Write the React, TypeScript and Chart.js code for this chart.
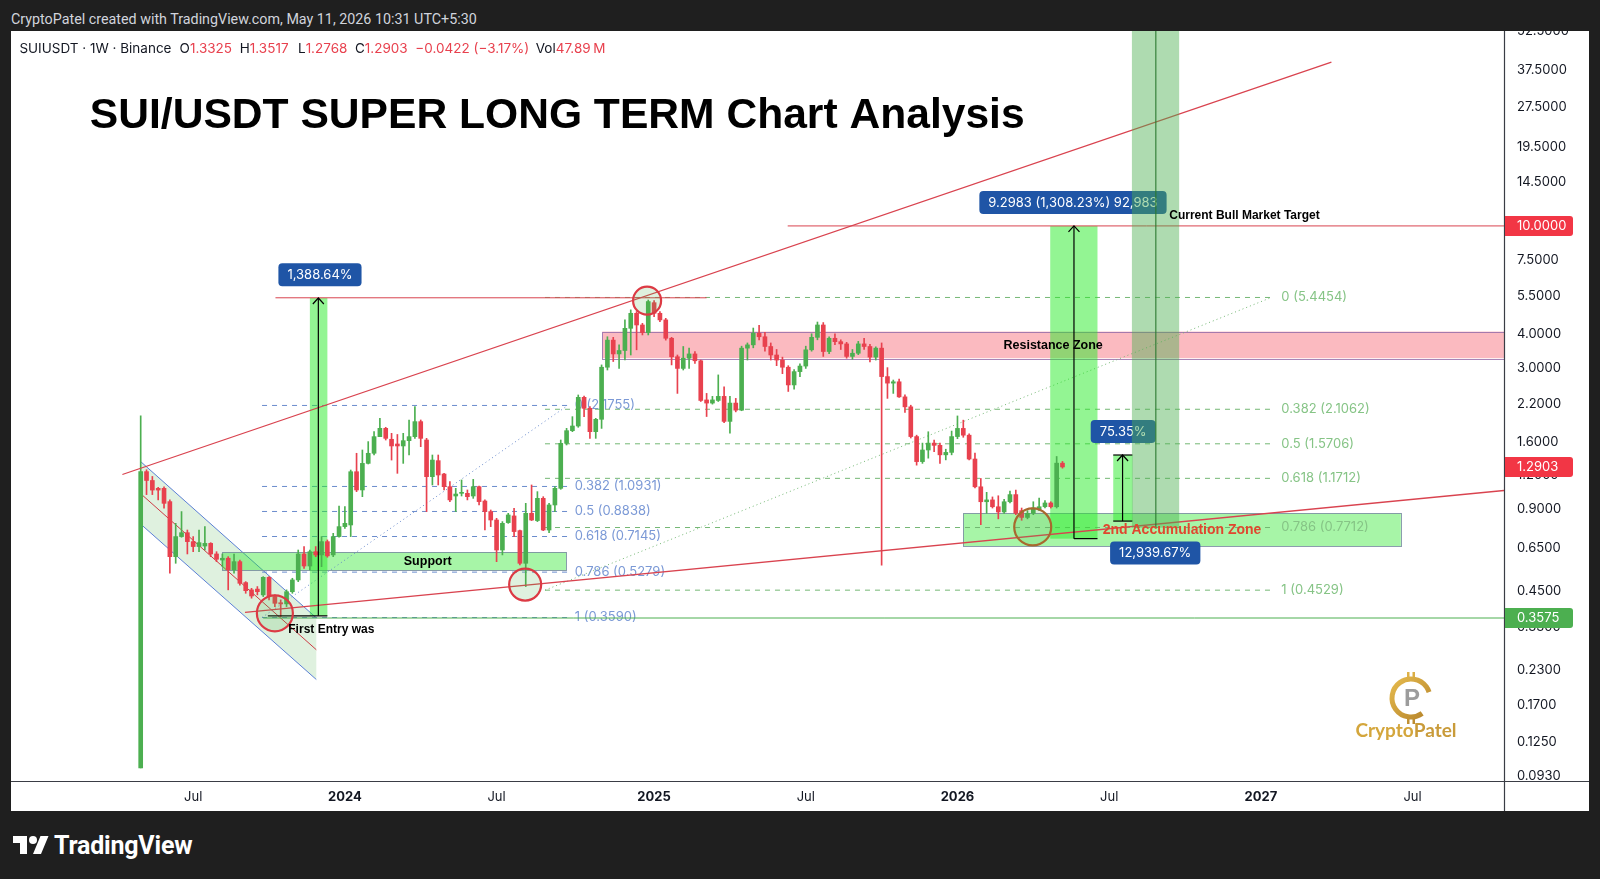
import React, { useEffect, useRef } from 'react';
import { Chart, registerables } from 'chart.js';

Chart.register(...registerables);

// Weekly SUIUSDT candles; week index 0 = week starting 1 May 2023
const OPEN = [0.100, 1.24, 1.15, 1.076, 1.076, 0.961, 0.602, 0.714, 0.738, 0.684, 0.656, 0.659, 0.674, 0.616, 0.585, 0.594, 0.538, 0.577, 0.483, 0.454, 0.457, 0.435, 0.505, 0.429, 0.407, 0.403, 0.447, 0.494, 0.616, 0.556, 0.628, 0.611, 0.684, 0.611, 0.714, 0.777, 0.788, 1.239, 1.061, 1.330, 1.449, 1.669, 1.791, 1.632, 1.568, 1.542, 1.613, 1.669, 1.896, 1.622, 1.188, 1.361, 1.215, 1.091, 1.008, 1.031, 1.031, 1.008, 1.091, 0.966, 0.883, 0.822, 0.637, 0.804, 0.851, 0.751, 0.569, 0.870, 0.818, 0.988, 0.755, 0.934, 1.076, 1.577, 1.756, 1.827, 2.331, 2.123, 1.741, 1.934, 3.01, 3.79, 3.37, 3.47, 4.19, 4.76, 4.31, 4.04, 5.21, 4.76, 4.50, 3.85, 3.29, 2.98, 3.25, 3.37, 3.18, 2.28, 2.22, 2.27, 2.35, 1.90, 2.22, 2.09, 3.54, 3.64, 4.02, 3.90, 3.59, 3.34, 3.20, 3.01, 2.59, 2.90, 3.04, 3.49, 3.88, 4.31, 3.44, 3.85, 3.74, 3.67, 3.30, 3.39, 3.67, 3.59, 3.28, 3.54, 2.78, 2.63, 2.66, 2.34, 2.15, 1.67, 1.35, 1.49, 1.58, 1.55, 1.43, 1.46, 1.67, 1.79, 1.69, 1.38, 1.09, 0.96, 0.975, 0.92, 0.88, 0.96, 1.02, 0.89, 0.84, 0.87, 0.90, 0.92, 0.95, 0.92, 1.3325];
const HIGH = [1.99, 1.26, 1.19, 1.085, 1.09, 0.975, 0.799, 0.883, 0.755, 0.714, 0.755, 0.777, 0.678, 0.628, 0.616, 0.602, 0.616, 0.585, 0.487, 0.460, 0.467, 0.508, 0.508, 0.435, 0.417, 0.454, 0.501, 0.637, 0.656, 0.637, 0.656, 0.714, 0.694, 0.734, 0.926, 0.921, 1.257, 1.449, 1.490, 1.600, 1.741, 1.950, 1.807, 1.717, 1.700, 1.717, 1.923, 2.153, 1.923, 1.645, 1.428, 1.428, 1.222, 1.139, 1.076, 1.155, 1.061, 1.161, 1.097, 0.975, 0.895, 0.834, 0.811, 0.870, 0.908, 0.755, 0.947, 1.107, 1.046, 1.002, 0.947, 1.091, 1.622, 1.791, 1.978, 2.378, 2.358, 2.153, 1.950, 3.07, 3.90, 3.88, 3.64, 4.50, 4.90, 4.83, 4.37, 5.33, 5.30, 4.83, 4.56, 3.88, 3.34, 3.59, 3.54, 3.44, 3.20, 2.41, 2.35, 2.82, 2.55, 2.35, 2.31, 3.60, 3.70, 4.20, 4.30, 4.05, 3.70, 3.50, 3.28, 3.05, 2.95, 3.10, 3.60, 4.00, 4.42, 4.40, 3.90, 4.00, 3.80, 3.72, 3.50, 3.75, 3.85, 3.66, 3.58, 3.70, 3.00, 2.70, 2.72, 2.38, 2.18, 1.69, 1.58, 1.74, 1.62, 1.58, 1.50, 1.75, 1.99, 1.92, 1.71, 1.45, 1.17, 1.04, 1.00, 1.01, 0.98, 1.05, 1.06, 0.91, 0.89, 0.96, 0.99, 0.97, 0.96, 1.41, 1.3517];
const LOW = [0.100, 1.02, 1.02, 0.975, 0.908, 0.523, 0.569, 0.710, 0.616, 0.628, 0.628, 0.637, 0.602, 0.577, 0.553, 0.454, 0.523, 0.473, 0.441, 0.423, 0.435, 0.429, 0.417, 0.394, 0.362, 0.394, 0.441, 0.487, 0.545, 0.538, 0.602, 0.553, 0.599, 0.602, 0.710, 0.766, 0.714, 1.046, 1.002, 1.323, 1.428, 1.669, 1.622, 1.368, 1.222, 1.330, 1.428, 1.645, 1.533, 0.883, 1.107, 1.107, 1.061, 0.961, 0.883, 1.008, 0.975, 0.988, 0.934, 0.755, 0.777, 0.577, 0.611, 0.799, 0.714, 0.561, 0.467, 0.818, 0.811, 0.751, 0.738, 0.883, 1.067, 1.555, 1.741, 1.807, 1.978, 1.645, 1.645, 1.79, 2.94, 3.16, 2.98, 3.20, 3.34, 3.49, 3.96, 3.96, 4.63, 4.43, 3.79, 3.07, 2.41, 2.94, 2.98, 3.11, 2.25, 1.98, 2.20, 2.25, 1.88, 1.72, 2.06, 2.08, 3.20, 3.55, 3.80, 3.45, 3.20, 3.05, 2.85, 2.45, 2.50, 2.78, 2.98, 3.45, 3.80, 3.30, 3.38, 3.65, 3.50, 3.25, 3.22, 3.35, 3.50, 3.15, 3.20, 0.56, 2.31, 2.41, 2.33, 2.05, 1.65, 1.31, 1.33, 1.39, 1.47, 1.33, 1.37, 1.43, 1.64, 1.66, 1.37, 1.08, 0.79, 0.87, 0.91, 0.83, 0.87, 0.95, 0.86, 0.82, 0.83, 0.86, 0.89, 0.91, 0.91, 0.91, 1.2768];
const CLOSE = [1.24, 1.15, 1.06, 1.06, 0.947, 0.602, 0.714, 0.738, 0.684, 0.656, 0.678, 0.674, 0.616, 0.589, 0.594, 0.538, 0.577, 0.480, 0.451, 0.431, 0.447, 0.505, 0.429, 0.405, 0.403, 0.447, 0.494, 0.616, 0.556, 0.628, 0.611, 0.684, 0.606, 0.714, 0.777, 0.799, 1.239, 1.061, 1.330, 1.449, 1.669, 1.791, 1.645, 1.542, 1.542, 1.613, 1.669, 1.896, 1.645, 1.188, 1.368, 1.205, 1.091, 0.975, 1.025, 1.037, 1.002, 1.091, 0.961, 0.883, 0.822, 0.637, 0.799, 0.858, 0.745, 0.569, 0.870, 0.822, 0.988, 0.755, 0.934, 1.076, 1.577, 1.756, 1.827, 2.331, 2.123, 1.741, 1.934, 3.01, 3.79, 3.37, 3.47, 4.19, 4.76, 4.31, 4.04, 5.26, 4.76, 4.50, 3.85, 3.29, 2.98, 3.25, 3.37, 3.18, 2.27, 2.22, 2.28, 2.35, 1.90, 2.22, 2.09, 3.54, 3.64, 4.02, 3.90, 3.59, 3.34, 3.20, 3.01, 2.59, 2.90, 3.04, 3.49, 3.88, 4.31, 3.44, 3.85, 3.74, 3.67, 3.30, 3.39, 3.67, 3.59, 3.28, 3.54, 2.78, 2.63, 2.66, 2.34, 2.15, 1.67, 1.35, 1.49, 1.58, 1.55, 1.43, 1.46, 1.67, 1.79, 1.69, 1.38, 1.09, 0.96, 0.975, 0.92, 0.88, 0.96, 1.02, 0.87, 0.84, 0.87, 0.91, 0.92, 0.95, 0.92, 1.3325, 1.2903];

const TIME_TICKS = [9, 35, 61, 88, 114, 140, 166, 192, 218];
const TIME_LABELS = ['Jul', '2024', 'Jul', '2025', 'Jul', '2026', 'Jul', '2027', 'Jul'];
const PRICE_TICKS = [52.5, 37.5, 27.5, 19.5, 14.5, 10, 7.5, 5.5, 4, 3, 2.2, 1.6, 1.2, 0.9, 0.65, 0.45, 0.33, 0.23, 0.17, 0.125, 0.093];
const X_RANGE = [-22.23, 233.68];
const Y_RANGE = [0.0895, 52.39];

const FIB_RATIOS = ['0', '0.382', '0.5', '0.618', '0.786', '1'];
const FIB1_PRICES = [2.1755, 1.0931, 0.8838, 0.7145, 0.5279, 0.359];
const FIB1_WEEKS = [20.8, 73.2];
const FIB2_PRICES = [5.4454, 2.1062, 1.5706, 1.1712, 0.7712, 0.4529];
const FIB2_WEEKS = [69.3, 193.8];

const CHANNEL_WEEKS = [0, 30.1];
const CHANNEL_UPPER = [1.35, 0.358];
const CHANNEL_MID = [1.028, 0.273];
const CHANNEL_LOWER = [0.794, 0.212];
const UPPER_TREND = [[-3.14, 1.21], [204.1, 40.2]];
const LOWER_TREND = [[17.88, 0.375], [233.68, 1.056]];

const SUPPORT_ZONE = [[14.0, 72.95], [0.536, 0.626]];
const RESIST_ZONE = [[79.1, 240], [3.25, 4.075]];
const ACCUM_ZONE = [[141.0, 216.0], [0.659, 0.87]];

const ATH_LINE = [[23.1, 97.0], 5.43];
const TARGET_LINE = [[110.9, 240], 10.0];
const ENTRY_LINE = [[21.0, 240], 0.3575];

const MOVE1 = { weeks: [29.0, 32.0], arrow: 30.45, from: 0.3642, to: 5.42, base: [21.8, 32.0] };
const MOVE2 = { weeks: [155.9, 164.0], arrow: 159.97, from: 0.7017, to: 10.0 };
const MOVE4 = { weeks: [166.7, 170.0], arrow: 168.3, from: 0.8145, to: 1.428 };
const COLUMN3 = { weeks: [169.9, 178.0], line: 174.0, from: 0.77 };

const CIRCLE_ANCHORS = [[23.0, 0.372], [65.9, 0.475], [86.8, 5.30], [152.9, 0.775]];

const BOX1 = ['1,388.64%', 30.73, 6.6];
const BOX2 = ['9.2983 (1,308.23%) 92,983', 159.8, 12.2];
const BOX4 = ['75.35%', 168.4, 1.744];
const BOX3 = ['12,939.67%', 173.9, 0.621];

const UP = '#4caf50';
const DOWN = '#e8414e';
const INK = '#131722';
const BOXBLUE = '#1f55a6';

type Ctx = CanvasRenderingContext2D;

function seg(ctx: Ctx, x1: number, y1: number, x2: number, y2: number, color: string, width = 1, dash: number[] = []) {
  ctx.save();
  ctx.strokeStyle = color;
  ctx.lineWidth = width;
  ctx.setLineDash(dash);
  ctx.beginPath();
  ctx.moveTo(x1, y1);
  ctx.lineTo(x2, y2);
  ctx.stroke();
  ctx.restore();
}

function box(ctx: Ctx, x1: number, y1: number, x2: number, y2: number, fill: string, stroke?: string) {
  ctx.save();
  ctx.fillStyle = fill;
  ctx.fillRect(x1, y1, x2 - x1, y2 - y1);
  if (stroke) {
    ctx.strokeStyle = stroke;
    ctx.lineWidth = 1;
    ctx.strokeRect(Math.round(x1) + 0.5, Math.round(y1) + 0.5, Math.round(x2 - x1), Math.round(y2 - y1));
  }
  ctx.restore();
}

function text(ctx: Ctx, s: string, x: number, y: number, font: string, color: string, align: CanvasTextAlign = 'left') {
  ctx.save();
  ctx.font = font;
  ctx.fillStyle = color;
  ctx.textAlign = align;
  ctx.textBaseline = 'middle';
  ctx.fillText(s, x, y);
  ctx.restore();
}

function labelBox(ctx: Ctx, s: string, cx: number, cy: number) {
  ctx.save();
  ctx.font = '13px Inter, sans-serif';
  const w = ctx.measureText(s).width + 18;
  const h = 23;
  ctx.fillStyle = BOXBLUE;
  ctx.beginPath();
  ctx.roundRect(cx - w / 2, cy - h / 2, w, h, 4);
  ctx.fill();
  ctx.fillStyle = '#ffffff';
  ctx.textAlign = 'center';
  ctx.textBaseline = 'middle';
  ctx.fillText(s, cx, cy + 0.5);
  ctx.restore();
}

function arrowUp(ctx: Ctx, x: number, yBottom: number, yTop: number) {
  seg(ctx, x, yBottom, x, yTop, '#000000', 1.2);
  ctx.save();
  ctx.strokeStyle = '#000000';
  ctx.lineWidth = 1.2;
  ctx.beginPath();
  ctx.moveTo(x - 5.5, yTop + 6);
  ctx.lineTo(x, yTop);
  ctx.lineTo(x + 5.5, yTop + 6);
  ctx.stroke();
  ctx.restore();
}

const overlay = {
  id: 'overlay',
  beforeDatasetsDraw(chart: any) {
    const { ctx, chartArea: a } = chart;
    const xs = chart.scales.x;
    const ys = chart.scales.y;
    const X = (v: number) => xs.getPixelForValue(v);
    const Y = (v: number) => ys.getPixelForValue(v);
    ctx.save();
    ctx.beginPath();
    ctx.rect(a.left, a.top, a.right - a.left, a.bottom - a.top);
    ctx.clip();

    const [c0, c1] = CHANNEL_WEEKS;
    ctx.fillStyle = 'rgba(76,175,80,0.18)';
    ctx.beginPath();
    ctx.moveTo(X(c0), Y(CHANNEL_UPPER[0]));
    ctx.lineTo(X(c1), Y(CHANNEL_UPPER[1]));
    ctx.lineTo(X(c1), Y(CHANNEL_LOWER[1]));
    ctx.lineTo(X(c0), Y(CHANNEL_LOWER[0]));
    ctx.closePath();
    ctx.fill();
    seg(ctx, X(c0), Y(CHANNEL_UPPER[0]), X(c1), Y(CHANNEL_UPPER[1]), '#5b7fd6', 1);
    seg(ctx, X(c0), Y(CHANNEL_LOWER[0]), X(c1), Y(CHANNEL_LOWER[1]), '#5b7fd6', 1);
    seg(ctx, X(c0), Y(CHANNEL_MID[0]), X(c1), Y(CHANNEL_MID[1]), '#cc3b45', 1);

    box(ctx, X(SUPPORT_ZONE[0][0]), Y(SUPPORT_ZONE[1][1]), X(SUPPORT_ZONE[0][1]), Y(SUPPORT_ZONE[1][0]), 'rgba(45,232,45,0.42)', 'rgba(120,140,160,0.85)');
    box(ctx, X(RESIST_ZONE[0][0]), Y(RESIST_ZONE[1][1]), X(RESIST_ZONE[0][1]), Y(RESIST_ZONE[1][0]), 'rgba(242,54,69,0.34)', 'rgba(150,110,170,0.85)');
    box(ctx, X(ACCUM_ZONE[0][0]), Y(ACCUM_ZONE[1][1]), X(ACCUM_ZONE[0][1]), Y(ACCUM_ZONE[1][0]), 'rgba(45,232,45,0.42)', 'rgba(120,140,160,0.85)');

    FIB1_PRICES.forEach((p, k) => {
      seg(ctx, X(FIB1_WEEKS[0]), Y(p), X(FIB1_WEEKS[1]), Y(p), 'rgba(91,127,200,0.9)', 1, [5, 5]);
      text(ctx, `${FIB_RATIOS[k]} (${p.toFixed(4)})`, X(FIB1_WEEKS[1]) + 7, Y(p), '13px Inter, sans-serif', '#7b99d6');
    });
    seg(ctx, X(FIB1_WEEKS[0]), Y(FIB1_PRICES[5]), X(FIB1_WEEKS[1]), Y(FIB1_PRICES[0]), 'rgba(91,127,200,0.9)', 1, [1, 3]);

    FIB2_PRICES.forEach((p, k) => {
      seg(ctx, X(FIB2_WEEKS[0]), Y(p), X(FIB2_WEEKS[1]), Y(p), 'rgba(110,180,110,0.95)', 1, [5, 5]);
      text(ctx, `${FIB_RATIOS[k]} (${p.toFixed(4)})`, X(FIB2_WEEKS[1]) + 10, Y(p), '13px Inter, sans-serif', '#86c486');
    });
    seg(ctx, X(FIB2_WEEKS[0]), Y(FIB2_PRICES[5]), X(FIB2_WEEKS[1]), Y(FIB2_PRICES[0]), 'rgba(110,180,110,0.95)', 1, [1, 3]);

    for (const m of [MOVE1, MOVE2, MOVE4]) {
      box(ctx, X(m.weeks[0]), Y(m.to), X(m.weeks[1]), Y(m.from), 'rgba(40,235,40,0.5)');
    }

    seg(ctx, X(ATH_LINE[0][0]), Y(ATH_LINE[1] as number), X(ATH_LINE[0][1]), Y(ATH_LINE[1] as number), '#d9434f', 1);
    seg(ctx, X(TARGET_LINE[0][0]), Y(TARGET_LINE[1] as number), X(TARGET_LINE[0][1]), Y(TARGET_LINE[1] as number), '#d9434f', 1);
    seg(ctx, X(ENTRY_LINE[0][0]), Y(ENTRY_LINE[1] as number), X(ENTRY_LINE[0][1]), Y(ENTRY_LINE[1] as number), '#4caf50', 1);

    ctx.restore();
  },
  afterDatasetsDraw(chart: any) {
    const { ctx, chartArea: a } = chart;
    const xs = chart.scales.x;
    const ys = chart.scales.y;
    const X = (v: number) => xs.getPixelForValue(v);
    const Y = (v: number) => ys.getPixelForValue(v);
    ctx.save();
    ctx.beginPath();
    ctx.rect(a.left, a.top, a.right - a.left, a.bottom - a.top);
    ctx.clip();

    seg(ctx, X(UPPER_TREND[0][0]), Y(UPPER_TREND[0][1]), X(UPPER_TREND[1][0]), Y(UPPER_TREND[1][1]), '#d9434f', 1.3);
    seg(ctx, X(LOWER_TREND[0][0]), Y(LOWER_TREND[0][1]), X(LOWER_TREND[1][0]), Y(LOWER_TREND[1][1]), '#d9434f', 1.3);

    arrowUp(ctx, X(MOVE1.arrow), Y(MOVE1.from), Y(MOVE1.to));
    seg(ctx, X(MOVE1.base[0]), Y(MOVE1.from), X(MOVE1.base[1]), Y(MOVE1.from), '#000000', 1.2);
    arrowUp(ctx, X(MOVE2.arrow), Y(MOVE2.from), Y(MOVE2.to));
    seg(ctx, X(MOVE2.arrow), Y(MOVE2.from), X(MOVE2.weeks[1]), Y(MOVE2.from), '#000000', 1.2);
    arrowUp(ctx, X(MOVE4.arrow), Y(MOVE4.from), Y(MOVE4.to));
    seg(ctx, X(MOVE4.weeks[0]), Y(MOVE4.to), X(MOVE4.weeks[1]), Y(MOVE4.to), '#000000', 1.2);
    seg(ctx, X(MOVE4.weeks[0]), Y(MOVE4.from), X(MOVE4.weeks[1]), Y(MOVE4.from), '#000000', 1.2);

    const radii = [18, 16, 14, 18.5];
    CIRCLE_ANCHORS.forEach(([w, p], k) => {
      ctx.save();
      ctx.beginPath();
      ctx.arc(X(w), Y(p), radii[k], 0, Math.PI * 2);
      ctx.fillStyle = 'rgba(76,175,80,0.18)';
      ctx.fill();
      ctx.lineWidth = 2.2;
      ctx.strokeStyle = k === 3 ? '#a8692e' : '#dc3a44';
      ctx.stroke();
      ctx.restore();
    });

    labelBox(ctx, BOX1[0] as string, X(BOX1[1] as number), Y(BOX1[2] as number));
    labelBox(ctx, BOX2[0] as string, X(BOX2[1] as number), Y(BOX2[2] as number));
    labelBox(ctx, BOX4[0] as string, X(BOX4[1] as number), Y(BOX4[2] as number));

    box(ctx, X(COLUMN3.weeks[0]), a.top, X(COLUMN3.weeks[1]), Y(COLUMN3.from), 'rgba(76,175,80,0.45)');
    seg(ctx, X(COLUMN3.line), a.top, X(COLUMN3.line), Y(COLUMN3.from), 'rgba(40,120,45,0.9)', 1.2);
    labelBox(ctx, BOX3[0] as string, X(BOX3[1] as number), Y(BOX3[2] as number));

    const bold = (s: number) => `bold ${s}px "Liberation Sans", Arial, sans-serif`;
    text(ctx, 'Support', X(49.2), Y(0.58), bold(12.5), '#000000', 'center');
    text(ctx, 'Resistance Zone', X(156.4), Y(3.605), bold(12.5), '#000000', 'center');
    text(ctx, '2nd Accumulation Zone', X(164.9), Y(0.755), bold(14), '#e0472f');
    text(ctx, 'First Entry was', X(25.3), Y(0.323), bold(12), '#000000');
    text(ctx, 'Current Bull Market Target', X(176.3), Y(10.91), bold(12), '#000000');

    ctx.restore();

    ctx.save();
    ctx.font = 'bold 42.6px "Liberation Sans", Arial, sans-serif';
    ctx.fillStyle = '#000000';
    ctx.textBaseline = 'alphabetic';
    ctx.fillText('SUI/USDT SUPER LONG TERM Chart Analysis', 78.8, 96.5);
    ctx.restore();

    const f = '13.5px Inter, sans-serif';
    const groups: [number, [string, string][]][] = [
      [8.4, [['SUIUSDT · 1W · Binance', INK]]],
      [168.6, [['O', INK], ['1.3325', DOWN]]],
      [228.8, [['H', INK], ['1.3517', DOWN]]],
      [287, [['L', INK], ['1.2768', DOWN]]],
      [344, [['C', INK], ['1.2903', DOWN]]],
      [404.3, [['−0.0422 (−3.17%)', DOWN]]],
      [524.7, [['Vol', INK], ['47.89', DOWN], ['\u2009M', DOWN]]],
    ];
    ctx.save();
    ctx.font = f;
    ctx.textBaseline = 'middle';
    for (const [gx, parts] of groups) {
      let cx = gx;
      for (const [s, col] of parts) {
        ctx.fillStyle = col;
        ctx.fillText(s, cx, 18);
        cx += ctx.measureText(s).width;
      }
    }
    ctx.restore();

    // watermark
    ctx.save();
    const wx = 1400, wy = 667;
    const g = ctx.createLinearGradient(wx - 20, wy - 20, wx + 20, wy + 20);
    g.addColorStop(0, '#e6bb4e');
    g.addColorStop(1, '#b5832a');
    ctx.strokeStyle = g;
    ctx.lineWidth = 5;
    ctx.beginPath();
    ctx.arc(wx, wy, 19, Math.PI * 0.3, Math.PI * 1.9);
    ctx.stroke();
    ctx.fillStyle = g;
    ctx.fillRect(wx - 4, wy - 26, 2.5, 6);
    ctx.fillRect(wx + 1.5, wy - 26, 2.5, 6);
    ctx.fillRect(wx - 4, wy + 20, 2.5, 6);
    ctx.fillRect(wx + 1.5, wy + 20, 2.5, 6);
    ctx.font = 'bold 24px "Liberation Sans", Arial, sans-serif';
    ctx.fillStyle = '#9c9c9c';
    ctx.textAlign = 'center';
    ctx.textBaseline = 'middle';
    ctx.fillText('P', wx + 1, wy + 1);
    ctx.font = 'bold 19px Lato, sans-serif';
    const w1 = ctx.measureText('Crypto').width;
    const w2 = ctx.measureText('Patel').width;
    const sx = 1395 - (w1 + w2) / 2;
    ctx.textAlign = 'left';
    ctx.fillStyle = '#d4a63c';
    ctx.fillText('Crypto', sx, 700);
    ctx.fillStyle = '#c99b3a';
    ctx.fillText('Patel', sx + w1, 700);
    ctx.restore();
  },
  afterDraw(chart: any) {
    const { ctx, chartArea: a, width, height } = chart;
    const ys = chart.scales.y;
    ctx.save();
    seg(ctx, 0, Math.round(a.bottom) + 0.5, width, Math.round(a.bottom) + 0.5, '#3a3d45', 1.2);
    seg(ctx, Math.round(a.right) + 0.5, 0, Math.round(a.right) + 0.5, height, '#3a3d45', 1.2);
    const tag = (p: number, s: string, bg: string) => {
      const y = ys.getPixelForValue(p);
      ctx.fillStyle = bg;
      ctx.beginPath();
      ctx.roundRect(a.right + 1, y - 10, 68, 20, [0, 3, 3, 0]);
      ctx.fill();
      ctx.fillStyle = '#ffffff';
      ctx.font = '13px Inter, sans-serif';
      ctx.textBaseline = 'middle';
      ctx.textAlign = 'left';
      ctx.fillText(s, a.right + 13, y + 0.5);
    };
    tag(TARGET_LINE[1] as number, '10.0000', '#f23645');
    tag(CLOSE[CLOSE.length - 1], CLOSE[CLOSE.length - 1].toFixed(4), '#f23645');
    tag(ENTRY_LINE[1] as number, (ENTRY_LINE[1] as number).toFixed(4), '#4caf50');
    ctx.restore();
  },
};

export default function App() {
  const ref = useRef<HTMLCanvasElement>(null);
  useEffect(() => {
    const canvas = ref.current as HTMLCanvasElement;
    const colors = CLOSE.map((c, i) => (c >= OPEN[i] ? UP : DOWN));
    const chart = new Chart(canvas, {
      type: 'bar',
      data: {
        datasets: [
          {
            label: 'wicks',
            data: OPEN.map((_, i) => ({ x: i, y: [LOW[i], HIGH[i]] })) as any,
            backgroundColor: colors,
            borderWidth: 0,
            barThickness: 1,
            grouped: false,
            order: 2,
          },
          {
            label: 'bodies',
            data: OPEN.map((o, i) => ({ x: i, y: [Math.min(o, CLOSE[i]), Math.max(o, CLOSE[i])] })) as any,
            backgroundColor: colors,
            borderWidth: 0,
            barThickness: 4,
            minBarLength: 1,
            grouped: false,
            order: 1,
          },
        ],
      },
      options: {
        animation: false,
        responsive: false,
        events: [],
        layout: { padding: 0 },
        plugins: { legend: { display: false }, tooltip: { enabled: false } },
        scales: {
          x: {
            type: 'linear',
            min: X_RANGE[0],
            max: X_RANGE[1],
            bounds: 'data',
            offset: false,
            grid: { display: false, drawTicks: false },
            border: { display: false },
            afterBuildTicks: (s: any) => { s.ticks = TIME_TICKS.map((v) => ({ value: v })); },
            afterFit: (s: any) => { s.height = 30; s.paddingLeft = 0; s.paddingRight = 0; s.paddingTop = 0; s.paddingBottom = 0; },
            ticks: {
              autoSkip: false,
              maxRotation: 0,
              padding: 8,
              color: INK,
              font: (c: any) => {
                const k = TIME_TICKS.indexOf(c.tick ? c.tick.value : -1);
                return { family: 'Inter, sans-serif', size: 13, weight: k >= 0 && TIME_LABELS[k] !== 'Jul' ? 'bold' : 'normal' };
              },
              callback: (v: any) => {
                const k = TIME_TICKS.indexOf(Number(v));
                return k >= 0 ? TIME_LABELS[k] : '';
              },
            },
          },
          y: {
            type: 'logarithmic',
            position: 'right',
            min: Y_RANGE[0],
            max: Y_RANGE[1],
            bounds: 'data',
            beginAtZero: false,
            grid: { display: false, drawTicks: false },
            border: { display: false },
            afterBuildTicks: (s: any) => { s.ticks = PRICE_TICKS.map((v) => ({ value: v })); },
            afterFit: (s: any) => { s.width = 85; s.paddingTop = 0; s.paddingBottom = 0; s.paddingLeft = 0; s.paddingRight = 0; },
            ticks: {
              autoSkip: false,
              padding: 13,
              color: INK,
              font: { family: 'Inter, sans-serif', size: 13 },
              callback: (v: any) => Number(v).toFixed(4),
            },
          },
        },
      } as any,
      plugins: [overlay],
    });
    return () => chart.destroy();
  }, []);

  return (
    <div style={{ position: 'absolute', left: 0, top: 0, width: 1600, height: 879, background: '#1f1f1f', overflow: 'hidden' }}>
      <div style={{ position: 'absolute', left: 11, top: 9, height: 21, lineHeight: '21px', fontFamily: 'Roboto, sans-serif', fontSize: 14.3, color: '#d1d4dc', whiteSpace: 'nowrap' }}>
        CryptoPatel created with TradingView.com, May 11, 2026 10:31 UTC+5:30
      </div>
      <div style={{ position: 'absolute', left: 11, top: 31, width: 1578, height: 780, background: '#ffffff' }}>
        <canvas ref={ref} width={1578} height={780} style={{ display: 'block', width: 1578, height: 780 }} />
      </div>
      <div style={{ position: 'absolute', left: 13, top: 832, height: 28, display: 'flex', alignItems: 'center' }}>
        <svg width="36" height="28" viewBox="0 0 36 28" style={{ display: 'block' }}>
          <path d="M14 22H7V11H0V4h14v18zM28 22h-8l7.5-18h8L28 22z" fill="#ffffff" />
          <circle cx="20" cy="8" r="4" fill="#ffffff" />
        </svg>
        <span style={{ marginLeft: 5, fontFamily: 'Roboto, sans-serif', fontWeight: 700, fontSize: 25, color: '#ffffff', letterSpacing: -0.2, lineHeight: '28px' }}>TradingView</span>
      </div>
    </div>
  );
}
